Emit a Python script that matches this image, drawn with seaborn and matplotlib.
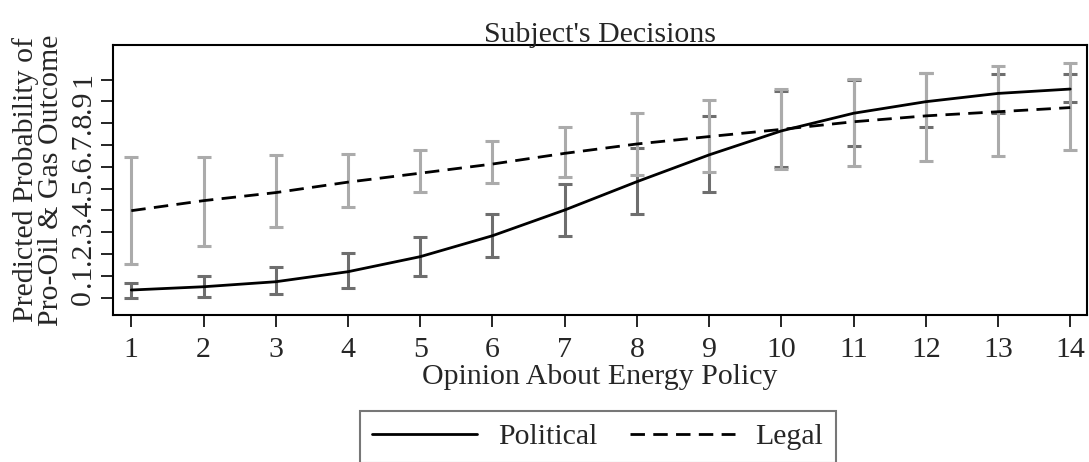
import matplotlib
matplotlib.use("Agg")
import matplotlib.pyplot as plt
import seaborn as sns
import pandas as pd

# Opinion scale and predicted probabilities with 95% intervals
opinion = list(range(1, 15))
political = [0.035, 0.050, 0.073, 0.119, 0.188, 0.284, 0.402, 0.532, 0.655, 0.765, 0.846, 0.899, 0.937, 0.957]
political_lo = [0.000, 0.002, 0.015, 0.046, 0.101, 0.188, 0.284, 0.382, 0.483, 0.600, 0.696, 0.782, 0.848, 0.899]
political_hi = [0.066, 0.100, 0.142, 0.204, 0.280, 0.382, 0.520, 0.685, 0.834, 0.950, 1.000, 1.030, 1.026, 1.026]
legal = [0.399, 0.445, 0.482, 0.530, 0.571, 0.613, 0.662, 0.705, 0.739, 0.772, 0.807, 0.834, 0.853, 0.872]
legal_lo = [0.153, 0.239, 0.326, 0.415, 0.483, 0.528, 0.552, 0.563, 0.575, 0.590, 0.606, 0.627, 0.650, 0.678]
legal_hi = [0.647, 0.647, 0.655, 0.659, 0.678, 0.720, 0.782, 0.846, 0.907, 0.955, 1.002, 1.032, 1.064, 1.075]
ytick_vals = [0, 0.1, 0.2, 0.3, 0.4, 0.5, 0.6, 0.7, 0.8, 0.9, 1.0]
ytick_labels = ["0", ".1", ".2", ".3", ".4", ".5", ".6", ".7", ".8", ".9", "1"]

sns.set_style("white")
plt.rcParams["font.family"] = ["Liberation Serif", "DejaVu Serif"]
FS = 21.5
DASH = (5.2, 3.0)

df = pd.DataFrame({
    "opinion": opinion * 2,
    "prob": political + legal,
    "Setting": ["Political"] * 14 + ["Legal"] * 14,
})

fig = plt.figure(figsize=(10.89, 4.62), dpi=100)
ax = fig.add_axes([0.104, 0.318, 0.894, 0.585])

# confidence intervals behind the fitted curves
for mid, lo, hi, col in [(political, political_lo, political_hi, "#6e6e6e"),
                         (legal, legal_lo, legal_hi, "#ababab")]:
    ax.errorbar(opinion, mid,
                yerr=[[m - l for m, l in zip(mid, lo)], [h - m for m, h in zip(mid, hi)]],
                fmt="none", ecolor=col, elinewidth=2.2, capsize=4.7, capthick=2.2, zorder=1)

sns.lineplot(data=df, x="opinion", y="prob", style="Setting",
             dashes={"Political": "", "Legal": DASH},
             color="black", linewidth=2, ax=ax, legend=False, zorder=3)

ax.set_xlim(0.75, 14.23)
ax.set_ylim(-0.08, 1.16)
ax.set_xticks(opinion)
ax.set_xticklabels([str(v) for v in opinion], fontsize=FS)
ax.set_yticks(ytick_vals)
ax.set_yticklabels(ytick_labels, fontsize=FS, rotation=90, va="center")
ax.tick_params(axis="both", direction="out", length=8.5, width=1.2, color="black", left=True, bottom=True)
ax.tick_params(axis="x", pad=7)
ax.tick_params(axis="y", pad=4)
for s in ax.spines.values():
    s.set_color("black")
    s.set_linewidth(1.5)

ax.set_xlabel("Opinion About Energy Policy", fontsize=FS, labelpad=1)
ax.set_ylabel("Predicted Probability of\nPro-Oil & Gas Outcome", fontsize=FS, labelpad=4, linespacing=0.95)
ax.set_title("Subject's Decisions", fontsize=FS, pad=2)

handles = [plt.Line2D([], [], color="black", lw=2),
           plt.Line2D([], [], color="black", lw=2, dashes=DASH)]
leg = fig.legend(handles, ["Political", "Legal"], loc="upper left",
                 bbox_to_anchor=(360 / 1089, 1 - 411 / 462), ncol=2, fontsize=FS,
                 frameon=True, fancybox=False, handlelength=3.5, columnspacing=1.1,
                 handletextpad=0.7, borderpad=0.6, borderaxespad=0)
leg.get_frame().set_edgecolor("#555555")
leg.get_frame().set_linewidth(1.5)
# narrower side padding inside the legend frame
leg._legend_box.pad = 0.3 * FS * 100 / 72

fig.savefig("out.png", dpi=100)
